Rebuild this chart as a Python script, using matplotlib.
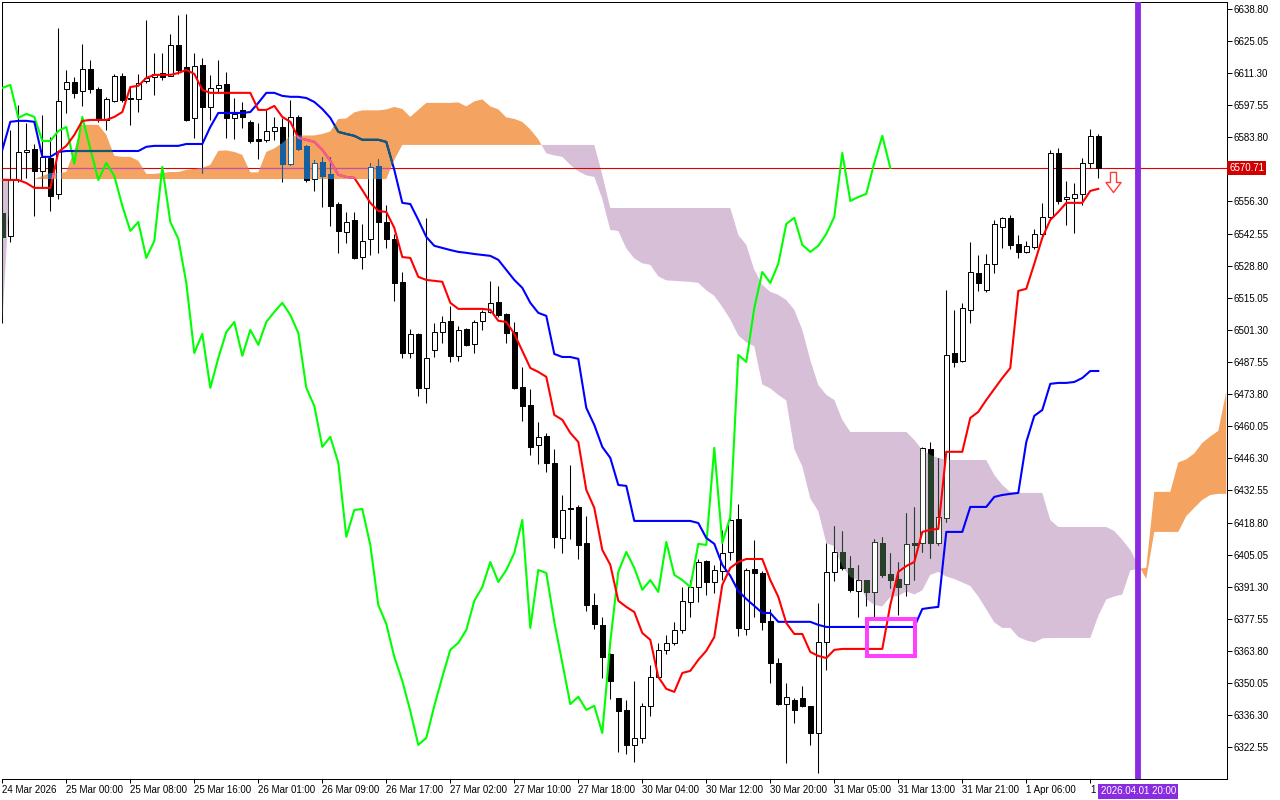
import numpy as np
import matplotlib
matplotlib.use("Agg")
import matplotlib.pyplot as plt
from matplotlib.path import Path
from matplotlib.patches import Rectangle
from matplotlib.transforms import blended_transform_factory

plt.rcParams['font.family'] = ['Liberation Sans', 'DejaVu Sans']

# ---------------- data (H1 candles) ----------------
opens = [6551.4, 6541.5, 6565.5, 6577.5, 6578.8, 6569.4, 6574.9, 6559.5, 6604.5, 6607.5,
         6603.6, 6613.1, 6604.5, 6591.2, 6599.4, 6610.1, 6600.6, 6600.2, 6607.9, 6609.6,
         6611.3, 6610.1, 6623.3, 6613.9, 6592.1, 6614.8, 6596.8, 6604.9, 6606.6, 6592.1,
         6595.5, 6590.4, 6583.1, 6582.7, 6586.5, 6588.2, 6572.4, 6592.5, 6580.1, 6565.9,
         6573.2, 6568.1, 6555.2, 6543.3, 6548.4, 6532.5, 6540.3, 6571.5, 6547.5, 6540.3,
         6521.9, 6491.4, 6499.6, 6476.5, 6492.7, 6500.4, 6505.2, 6490.2, 6501.7, 6495.3,
         6505.2, 6509.0, 6513.3, 6508.2, 6500.4, 6476.9, 6469.2, 6452.1, 6455.9, 6444.3,
         6412.2, 6425.1, 6425.5, 6410.1, 6383.5, 6375.0, 6362.6, 6343.7, 6338.6, 6323.6,
         6326.6, 6340.3, 6352.7, 6364.3, 6367.3, 6372.8, 6384.8, 6391.2, 6402.4, 6393.4,
         6398.1, 6406.2, 6420.4, 6373.3, 6399.0, 6397.2, 6376.7, 6358.7, 6341.1, 6342.9,
         6343.7, 6340.3, 6328.7, 6367.7, 6397.7, 6406.2, 6399.4, 6389.5, 6394.2, 6389.1,
         6410.1, 6396.8, 6394.7, 6392.5, 6410.1, 6410.1, 6450.3, 6410.1, 6420.8, 6491.4,
         6488.0, 6509.9, 6525.7, 6518.4, 6529.6, 6545.4, 6549.3, 6538.1, 6534.7, 6536.8,
         6542.4, 6549.7, 6577.1, 6557.4, 6557.8, 6559.5, 6572.8, 6584.4]
highs = [6641.7, 6586.9, 6597.6, 6589.9, 6580.9, 6593.4, 6583.9, 6630.6, 6612.6, 6609.6,
         6623.8, 6616.9, 6605.3, 6601.1, 6610.9, 6611.3, 6605.8, 6610.9, 6634.0, 6619.9,
         6619.9, 6628.0, 6636.2, 6636.6, 6619.9, 6617.8, 6610.5, 6616.9, 6611.8, 6600.6,
         6598.9, 6591.2, 6589.9, 6595.5, 6592.5, 6592.1, 6599.8, 6593.4, 6580.5, 6574.1,
         6575.4, 6575.4, 6556.1, 6551.8, 6551.8, 6546.7, 6572.8, 6574.5, 6554.8, 6542.4,
         6526.1, 6501.7, 6500.0, 6549.3, 6504.3, 6507.3, 6511.6, 6503.0, 6502.2, 6505.6,
         6509.9, 6522.3, 6520.1, 6508.6, 6504.7, 6485.4, 6476.0, 6461.9, 6457.2, 6450.3,
         6430.6, 6443.5, 6426.4, 6421.6, 6388.7, 6378.4, 6363.0, 6343.7, 6342.9, 6351.0,
         6341.6, 6357.8, 6367.3, 6370.7, 6376.3, 6391.2, 6394.2, 6403.2, 6402.8, 6400.7,
         6415.7, 6426.4, 6426.8, 6399.4, 6411.4, 6398.1, 6381.8, 6360.8, 6350.1, 6343.7,
         6348.9, 6340.3, 6384.4, 6410.1, 6417.4, 6415.2, 6404.5, 6400.7, 6394.2, 6411.8,
         6412.7, 6405.8, 6401.9, 6422.9, 6425.5, 6451.2, 6453.3, 6446.5, 6518.4, 6509.9,
         6512.9, 6539.0, 6533.4, 6533.8, 6548.4, 6549.7, 6550.5, 6542.0, 6539.4, 6544.5,
         6555.7, 6578.4, 6579.2, 6565.1, 6564.2, 6574.9, 6587.4, 6585.2]
lows = [6504.3, 6539.0, 6564.7, 6566.4, 6550.1, 6562.1, 6552.2, 6557.4, 6594.2, 6600.6,
        6597.2, 6602.8, 6590.4, 6586.9, 6598.9, 6598.9, 6589.1, 6594.6, 6607.1, 6601.9,
        6608.3, 6610.1, 6610.9, 6590.8, 6583.5, 6568.5, 6591.2, 6602.8, 6583.5, 6583.1,
        6587.8, 6581.4, 6574.5, 6581.8, 6582.7, 6564.7, 6571.9, 6578.4, 6564.7, 6560.8,
        6554.0, 6545.8, 6534.3, 6538.5, 6531.7, 6527.4, 6533.4, 6534.3, 6536.4, 6513.7,
        6489.3, 6489.3, 6473.0, 6470.0, 6489.7, 6495.7, 6487.6, 6488.0, 6494.4, 6491.4,
        6501.3, 6508.6, 6506.9, 6495.7, 6476.0, 6462.3, 6447.8, 6443.9, 6440.5, 6408.0,
        6405.8, 6411.8, 6403.2, 6381.0, 6373.3, 6352.3, 6343.3, 6320.6, 6319.7, 6316.3,
        6324.4, 6336.0, 6352.3, 6362.6, 6366.4, 6371.5, 6378.4, 6384.8, 6387.8, 6388.7,
        6394.2, 6402.8, 6370.3, 6370.7, 6378.4, 6372.8, 6350.1, 6340.7, 6315.9, 6333.0,
        6339.9, 6323.6, 6311.6, 6355.7, 6393.8, 6398.5, 6389.1, 6378.4, 6383.1, 6378.4,
        6395.5, 6390.8, 6379.3, 6387.4, 6394.2, 6406.2, 6403.7, 6409.2, 6419.1, 6485.4,
        6487.6, 6504.3, 6518.0, 6517.6, 6525.7, 6536.4, 6536.0, 6532.1, 6534.3, 6536.0,
        6541.5, 6548.8, 6555.2, 6546.3, 6542.8, 6554.8, 6570.7, 6566.4]
closes = [6541.1, 6565.5, 6577.5, 6578.4, 6569.4, 6575.4, 6558.7, 6599.4, 6607.5, 6602.8,
          6613.1, 6604.5, 6591.2, 6600.2, 6610.1, 6599.8, 6600.2, 6607.1, 6609.2, 6610.9,
          6609.6, 6623.3, 6612.6, 6591.2, 6614.3, 6596.8, 6604.9, 6606.2, 6592.1, 6593.8,
          6592.5, 6582.2, 6582.2, 6586.5, 6588.2, 6572.4, 6592.5, 6578.8, 6565.5, 6572.8,
          6567.2, 6554.4, 6543.7, 6547.5, 6532.1, 6539.4, 6571.1, 6547.5, 6540.3, 6521.4,
          6491.4, 6499.6, 6476.5, 6489.3, 6500.4, 6504.7, 6490.2, 6501.3, 6494.9, 6504.7,
          6509.0, 6512.9, 6507.7, 6500.0, 6476.5, 6468.7, 6451.2, 6455.5, 6444.3, 6412.7,
          6424.2, 6424.6, 6409.2, 6383.5, 6375.4, 6361.3, 6351.0, 6338.1, 6323.6, 6326.6,
          6340.3, 6352.7, 6364.3, 6367.3, 6372.8, 6385.3, 6391.2, 6401.9, 6393.4, 6398.5,
          6405.8, 6419.9, 6373.7, 6398.5, 6397.2, 6376.3, 6358.7, 6341.1, 6344.2, 6338.6,
          6340.3, 6328.7, 6367.7, 6397.7, 6406.2, 6399.4, 6390.0, 6394.2, 6389.1, 6410.5,
          6396.4, 6394.2, 6391.2, 6409.7, 6409.2, 6450.8, 6410.1, 6421.2, 6490.6, 6487.6,
          6510.7, 6526.1, 6521.4, 6529.6, 6546.7, 6549.3, 6537.7, 6534.7, 6537.3, 6542.4,
          6549.7, 6577.1, 6556.5, 6558.2, 6559.5, 6572.8, 6584.4, 6570.71]

# Ichimoku lines
tenkan = [6565.5, 6565.5, 6565.5, 6564.2, 6562.1, 6562.1, 6562.1, 6577.5, 6580.1, 6584.8,
          6590.8, 6591.2, 6591.2, 6591.2, 6592.5, 6594.6, 6605.3, 6605.8, 6609.2, 6610.5,
          6610.5, 6610.5, 6611.3, 6612.6, 6610.9, 6604.1, 6602.8, 6602.8, 6602.8, 6602.8,
          6602.8, 6602.8, 6595.5, 6595.5, 6597.2, 6592.5, 6590.4, 6583.5, 6582.7, 6581.8,
          6578.4, 6573.7, 6567.7, 6566.8, 6566.4, 6561.2, 6555.7, 6552.2, 6551.8, 6545.0,
          6532.5, 6532.1, 6524.0, 6522.7, 6522.3, 6521.9, 6512.9, 6510.3, 6510.3, 6510.3,
          6510.3, 6509.9, 6505.2, 6504.7, 6499.6, 6492.3, 6485.0, 6483.3, 6481.2, 6464.9,
          6462.8, 6457.2, 6453.3, 6432.8, 6425.1, 6407.1, 6400.7, 6385.3, 6382.7, 6380.5,
          6371.5, 6368.6, 6352.7, 6347.6, 6346.3, 6354.4, 6355.3, 6360.0, 6363.9, 6369.8,
          6392.1, 6399.4, 6401.9, 6403.2, 6403.2, 6403.2, 6394.2, 6387.0, 6375.8, 6371.1,
          6371.1, 6363.4, 6361.7, 6360.8, 6364.3, 6364.7, 6364.7, 6364.7, 6364.7, 6364.7,
          6364.7, 6383.5, 6397.7, 6400.2, 6401.9, 6414.8, 6415.7, 6416.1, 6449.1, 6449.1,
          6449.1, 6463.6, 6466.2, 6471.3, 6476.0, 6480.7, 6485.0, 6518.0, 6518.9, 6529.6,
          6540.7, 6548.4, 6551.8, 6555.7, 6555.7, 6555.7, 6560.8, 6561.7]
kijun = [6578.4, 6590.4, 6590.8, 6590.8, 6590.4, 6575.4, 6575.4, 6577.5, 6577.9, 6577.9,
         6577.9, 6577.9, 6577.9, 6577.9, 6577.9, 6577.9, 6577.9, 6577.9, 6579.7, 6580.1,
         6580.1, 6580.1, 6580.1, 6580.9, 6580.9, 6580.9, 6588.2, 6594.2, 6594.2, 6594.2,
         6594.2, 6594.6, 6598.5, 6602.8, 6602.8, 6601.5, 6601.1, 6601.1, 6600.6, 6598.9,
         6595.9, 6592.1, 6586.1, 6585.2, 6584.4, 6582.7, 6582.7, 6582.7, 6581.8, 6569.8,
         6555.7, 6555.2, 6548.4, 6541.1, 6537.3, 6536.4, 6535.5, 6534.7, 6534.3, 6533.8,
         6533.4, 6533.0, 6531.3, 6527.0, 6522.7, 6519.3, 6512.9, 6508.6, 6507.3, 6491.0,
         6489.7, 6489.7, 6488.9, 6467.9, 6460.6, 6451.2, 6446.5, 6434.9, 6434.5, 6419.5,
         6419.5, 6419.5, 6419.5, 6419.5, 6419.5, 6419.5, 6419.5, 6418.6, 6412.2, 6409.7,
         6400.7, 6396.0, 6389.5, 6386.1, 6383.1, 6380.1, 6380.1, 6376.3, 6376.3, 6376.3,
         6376.3, 6376.3, 6375.0, 6374.1, 6374.1, 6374.1, 6374.1, 6374.1, 6374.1, 6374.1,
         6374.1, 6374.1, 6374.1, 6374.1, 6374.1, 6381.8, 6382.3, 6382.7, 6414.8, 6414.8,
         6414.8, 6425.5, 6425.5, 6425.5, 6429.8, 6430.6, 6431.1, 6431.5, 6453.3, 6464.5,
         6467.0, 6478.2, 6478.6, 6478.6, 6479.0, 6480.7, 6483.7, 6483.7]
# Senkou Span A for the first 26 displayed bars (its source lies before the first candle)
senkou_a_head = [6504.3, 6565.5, 6565.7, 6565.9, 6565.9, 6567.2, 6568.5, 6568.5, 6568.9, 6578.4,
                 6589.1, 6589.1, 6589.1, 6584.8, 6575.8, 6575.4, 6575.4, 6573.7, 6568.1, 6568.1,
                 6568.5, 6568.9, 6568.9, 6569.8, 6570.2, 6570.7]
# Senkou Span B as displayed (already shifted 26 bars forward)
senkou_b = ([6566.4] + [6565.9] * 48 + [6574.1] + [6580.5] * 25 + [6567.7] + [6553.5] * 16 +
            [6542.0, 6537.7, 6527.0, 6520.6, 6517.6, 6516.3, 6514.1, 6509.9, 6501.3, 6488.4,
             6477.7, 6473.5, 6471.3, 6462.8] + [6457.6] * 8 +
            [6454.2, 6449.9, 6447.8, 6446.5] + [6445.6] * 6 + [6439.2, 6434.9, 6431.9] +
            [6431.5] * 4 + [6419.9] + [6416.9] * 7 +
            [6415.2, 6411.4, 6407.1, 6400.7, 6394.7] + [6414.8] * 4 +
            [6421.6, 6425.1, 6428.5, 6430.6, 6431.1, 6431.1])

# time-axis labels (every 8 bars); the last one is mostly hidden by the time marker label
x_labels = ["24 Mar 2026", "25 Mar 00:00", "25 Mar 08:00", "25 Mar 16:00", "26 Mar 01:00",
            "26 Mar 09:00", "26 Mar 17:00", "27 Mar 02:00", "27 Mar 10:00", "27 Mar 18:00",
            "30 Mar 04:00", "30 Mar 12:00", "30 Mar 20:00", "31 Mar 05:00", "31 Mar 13:00",
            "31 Mar 21:00", "1 Apr 06:00", "1"]
last_price = 6570.71
marker_bar = 142            # vertical line: 2026.04.01 20:00
marker_label = "2026.04.01 20:00"

# ---------------- arrays ----------------
opens, highs, lows, closes = map(np.array, (opens, highs, lows, closes))
tenkan = np.array(tenkan)
kijun = np.array(kijun)
senkou_b = np.array(senkou_b)
n = len(closes)
idx = np.arange(n)
jx = np.arange(len(senkou_b))
# Senkou Span A = (Tenkan + Kijun) / 2, displayed 26 bars ahead
senkou_a = np.concatenate([senkou_a_head, (tenkan + kijun) / 2.0])[:len(senkou_b)]
# Chikou Span = close displayed 26 bars back
chikou = closes[26:]

# ---------------- figure ----------------
fig = plt.figure(figsize=(12.8, 8.0), dpi=100)
ax = fig.add_axes([2 / 1280, 21 / 800, 1225 / 1280, 777 / 800])
ax.set_xlim(-0.04, 153.09)
ax.set_ylim(6309.0, 6641.7)
ax.set_facecolor('white')

ORANGE = '#F4A460'
THISTLE = '#D8BFD8'
orange = ax.fill_between(jx, senkou_a, senkou_b, where=senkou_a >= senkou_b,
                         interpolate=True, color=ORANGE, lw=0, zorder=1)
thistle = ax.fill_between(jx, senkou_a, senkou_b, where=senkou_a < senkou_b,
                          interpolate=True, color=THISTLE, lw=0, zorder=1)


def compound(coll):
    paths = [p for p in coll.get_paths() if len(p.vertices)]
    return Path.make_compound_path(*paths)


orange_path = compound(orange)
thistle_path = compound(thistle)

PX = 0.72  # one pixel in points


def draw_candles(edge, bear_face, clip=None, z=3.0):
    bull = closes >= opens
    wicks = ax.vlines(idx, lows, highs, colors=edge, linewidth=PX * 1.05, zorder=z)
    bottoms = np.minimum(opens, closes)
    heights = np.abs(closes - opens)
    faces = [('white' if b else bear_face) for b in bull]
    bars = ax.bar(idx, heights, width=0.6, bottom=bottoms, color=faces,
                  edgecolor=edge, linewidth=PX, zorder=z + 0.05)
    if clip is not None:
        wicks.set_clip_path(clip, ax.transData)
        for p in bars.patches:
            p.set_clip_path(clip, ax.transData)


# price line
ax.axhline(last_price, color='#E00000', lw=PX * 1.1, zorder=2.5)
pl = ax.axhline(last_price, color='#C050B8', lw=PX * 1.1, zorder=2.6)
pl.set_clip_path(orange_path, ax.transData)

draw_candles('black', 'black', None, 3.0)
draw_candles('#16609F', '#16609F', orange_path, 3.2)
draw_candles('#26402A', '#26402A', thistle_path, 3.2)

LW = 1.5
ax.plot(np.arange(len(chikou)), chikou, color='#00FF00', lw=LW, zorder=4)
ax.plot(idx, kijun, color='#0000FF', lw=LW, zorder=4.1)
kj = ax.plot(idx, kijun, color='#0E5E6C', lw=LW, zorder=4.15)[0]
kj.set_clip_path(orange_path, ax.transData)
ax.plot(idx, tenkan, color='#FF0000', lw=LW, zorder=4.2)
tk = ax.plot(idx, tenkan, color='#F0609E', lw=LW, zorder=4.25)[0]
tk.set_clip_path(orange_path, ax.transData)

# highlighted Tenkan/Kijun cross
ax.add_patch(Rectangle((108.09, 6361.7), 6.0, 15.8, fill=False,
                       edgecolor='#FF40FF', lw=2.9, zorder=6))

# sell arrow
arrow = Path([(-0.3, 1.0), (0.3, 1.0), (0.3, 0.0), (0.75, 0.0), (0.0, -1.0),
              (-0.75, 0.0), (-0.3, 0.0), (-0.3, 1.0)])
ax.plot([138.8], [6564.7], marker=arrow, markersize=14.5, markerfacecolor='white',
        markeredgecolor='#FF3A3A', markeredgewidth=1.0, linestyle='none', zorder=6)

# time marker
ax.axvline(marker_bar, color='#8A2BE2', lw=4.2, zorder=5)

# axes styling
for s in ('top', 'right', 'bottom'):
    ax.spines[s].set_color('black')
    ax.spines[s].set_linewidth(PX)
ax.spines['left'].set_visible(False)

ax.yaxis.tick_right()
yt = 6322.55 + 13.75 * np.arange(24)
ax.set_yticks(yt)
# the 6570.05 label sits under the current-price label
ax.set_yticklabels(['' if abs(v - last_price) < 5 else f'{v:.2f}' for v in yt])
ax.tick_params(axis='y', direction='out', length=3.6, width=PX, pad=0.8,
               labelsize=7, colors='black')

ax.set_xticks(np.arange(0, 8 * len(x_labels), 8))
ax.set_xticklabels(x_labels)
ax.tick_params(axis='x', direction='out', length=3.0, width=PX, pad=1.5,
               labelsize=7, colors='black')
for lab in ax.get_xticklabels():
    lab.set_horizontalalignment('left')

# price label on the right axis
ax.text(1.0 + 2 / 1225, last_price, f'{last_price:.2f}',
        transform=blended_transform_factory(ax.transAxes, ax.transData),
        ha='left', va='center', fontsize=7, color='white', clip_on=False, zorder=10,
        bbox=dict(boxstyle='square,pad=0.2', fc='#D00000', ec='none'))
# time label under the vertical line
ax.text(marker_bar, -12.5 / 777, marker_label,
        transform=blended_transform_factory(ax.transData, ax.transAxes),
        ha='center', va='center', fontsize=7, color='white', clip_on=False, zorder=10,
        bbox=dict(boxstyle='square,pad=0.25', fc='#8A2BE2', ec='none'))

fig.savefig('out.png', dpi=100, facecolor='white')
